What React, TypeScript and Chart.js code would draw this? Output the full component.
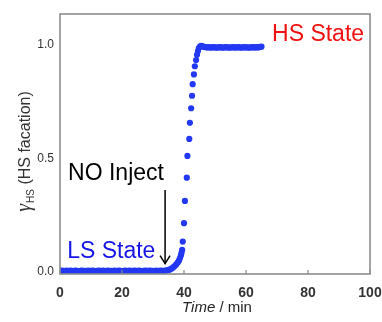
import React, { useEffect, useRef } from "react";
import { Chart, registerables } from "chart.js";

Chart.register(...registerables);

// ---- data ----
const timeMin: number[] = [
  0, 0.5, 1, 1.5, 2, 2.5, 3, 3.5, 4, 4.5, 5, 5.5, 6, 6.5, 7, 7.5, 8, 8.5, 9, 9.5,
  10, 10.5, 11, 11.5, 12, 12.5, 13, 13.5, 14, 14.5, 15, 15.5, 16, 16.5, 17, 17.5, 18, 18.5, 19, 19.5,
  20, 20.5, 21, 21.5, 22, 22.5, 23, 23.5, 24, 24.5, 25, 25.5, 26, 26.5, 27, 27.5, 28, 28.5, 29, 29.5,
  30, 30.5, 31, 31.5, 32, 32.5, 33, 33.5, 34, 34.5, 35, 35.5, 36, 36.5, 37, 37.5, 38, 38.4, 38.7, 39.0,
  39.2, 39.4, 39.6, 40.0, 40.3, 40.9, 41.1, 41.7, 41.9, 42.3, 42.6, 42.8, 43.2, 43.5, 43.9, 44.2,
  44.5, 44.8, 45.2, 45.6, 46.0, 46.5, 47, 47.5, 48, 48.5, 49, 49.5, 50, 50.5, 51, 51.5, 52, 52.5,
  53, 53.5, 54, 54.5, 55, 55.5, 56, 56.5, 57, 57.5, 58, 58.5, 59, 59.5, 60, 60.5, 61, 61.5, 62, 62.5,
  63, 63.5, 64, 64.5, 65,
];
const hsFraction: number[] = [
  0.004, 0.005, 0.004, 0.003, 0.005, 0.004, 0.004, 0.005, 0.003, 0.004, 0.005, 0.004, 0.003, 0.004, 0.005, 0.004, 0.004, 0.003, 0.005, 0.004,
  0.004, 0.005, 0.004, 0.003, 0.004, 0.005, 0.004, 0.004, 0.005, 0.003, 0.004, 0.005, 0.004, 0.004, 0.003, 0.005, 0.004, 0.004, 0.005, 0.004,
  0.003, 0.004, 0.005, 0.004, 0.004, 0.005, 0.003, 0.004, 0.005, 0.004, 0.004, 0.005, 0.004, 0.003, 0.004, 0.005, 0.004, 0.004, 0.005, 0.004,
  0.004, 0.003, 0.005, 0.004, 0.004, 0.005, 0.004, 0.004, 0.005, 0.006, 0.008, 0.010, 0.014, 0.019, 0.025, 0.032, 0.041, 0.050, 0.060, 0.072,
  0.083, 0.096, 0.133, 0.214, 0.312, 0.414, 0.510, 0.585, 0.656, 0.720, 0.775, 0.826, 0.869, 0.905, 0.932, 0.955,
  0.972, 0.985, 0.992, 0.995, 0.993, 0.990, 0.989, 0.988, 0.989, 0.987, 0.988, 0.989, 0.988, 0.987, 0.988, 0.989, 0.988, 0.987,
  0.988, 0.989, 0.988, 0.987, 0.988, 0.988, 0.989, 0.987, 0.988, 0.989, 0.988, 0.987, 0.988, 0.989, 0.988, 0.988, 0.987, 0.988, 0.989, 0.988,
  0.988, 0.989, 0.988, 0.990, 0.991,
];
const xTicks: number[] = [0, 20, 40, 60, 80, 100];
const yTicks: number[] = [0, 0.5, 1.0];

// annotations (data coordinates)
const injectArrow = { x: 33.9, yTop: 0.36, yTip: 0.036 };
const noInjectLabel = { text: "NO Inject", x: 2.6, y: 0.404 };
const lsLabel = { text: "LS State", x: 2.3, y: 0.06 };
const hsLabel = { text: "HS State", x: 68.4, y: 1.017 };

const SANS = '"Liberation Sans", Arial, Helvetica, sans-serif';

const decorPlugin = {
  id: "decor",
  afterDraw(chart: any) {
    const { ctx, chartArea: ca, scales } = chart;
    const xs = scales.x;
    const ys = scales.y;
    ctx.save();
    // frame
    ctx.strokeStyle = "#8c8c8c";
    ctx.lineWidth = 1.6;
    ctx.strokeRect(ca.left, ca.top, ca.right - ca.left, ca.bottom - ca.top);
    // inward x ticks
    ctx.lineWidth = 1.2;
    for (const t of xTicks) {
      const px = xs.getPixelForValue(t);
      ctx.beginPath();
      ctx.moveTo(px, ca.bottom);
      ctx.lineTo(px, ca.bottom - 4);
      ctx.stroke();
    }
    // arrow
    const ax = xs.getPixelForValue(injectArrow.x);
    const ay0 = ys.getPixelForValue(injectArrow.yTop);
    const ay1 = ys.getPixelForValue(injectArrow.yTip);
    ctx.strokeStyle = "#000";
    ctx.lineWidth = 1.5;
    ctx.beginPath();
    ctx.moveTo(ax, ay0);
    ctx.lineTo(ax, ay1);
    ctx.stroke();
    ctx.beginPath();
    ctx.moveTo(ax - 5, ay1 - 8);
    ctx.lineTo(ax, ay1);
    ctx.lineTo(ax + 5, ay1 - 8);
    ctx.stroke();
    // labels
    ctx.textBaseline = "alphabetic";
    ctx.textAlign = "left";
    ctx.font = `23px ${SANS}`;
    ctx.fillStyle = "#000";
    ctx.fillText(noInjectLabel.text, xs.getPixelForValue(noInjectLabel.x), ys.getPixelForValue(noInjectLabel.y));
    ctx.fillStyle = "#1414e6";
    ctx.fillText(lsLabel.text, xs.getPixelForValue(lsLabel.x), ys.getPixelForValue(lsLabel.y));
    ctx.fillStyle = "#f01010";
    ctx.fillText(hsLabel.text, xs.getPixelForValue(hsLabel.x), ys.getPixelForValue(hsLabel.y));

    // x title: "Time / min"
    ctx.fillStyle = "#222";
    ctx.textBaseline = "alphabetic";
    const f1 = `italic 15px ${SANS}`;
    const f2 = `15px ${SANS}`;
    ctx.font = f1;
    const w1 = ctx.measureText("Time").width;
    ctx.font = f2;
    const w2 = ctx.measureText(" / min").width;
    const cx = (ca.left + ca.right) / 2 + 2;
    const by = ca.bottom + 38;
    let sx = cx - (w1 + w2) / 2;
    ctx.font = f1;
    ctx.fillText("Time", sx, by);
    ctx.font = f2;
    ctx.fillText(" / min", sx + w1, by);

    // y title: γHS (HS facation)
    ctx.translate(30, (ca.top + ca.bottom) / 2 + 8);
    ctx.rotate(-Math.PI / 2);
    const g = `italic 20px "Liberation Serif", "Times New Roman", serif`;
    const sub = `10px ${SANS}`;
    const main = `16px ${SANS}`;
    ctx.font = g;
    const wg = ctx.measureText("γ").width;
    ctx.font = sub;
    const ws = ctx.measureText("HS").width;
    ctx.font = main;
    const wm = ctx.measureText(" (HS facation)").width;
    let tx = -(wg + ws + wm) / 2;
    ctx.fillStyle = "#333";
    ctx.font = g;
    ctx.fillText("γ", tx, 0);
    tx += wg + 1;
    ctx.font = sub;
    ctx.fillText("HS", tx, 4);
    tx += ws;
    ctx.font = main;
    ctx.fillText(" (HS facation)", tx, 0);
    ctx.restore();
  },
};

export default function App() {
  const ref = useRef<HTMLCanvasElement | null>(null);
  useEffect(() => {
    if (!ref.current) return;
    const points = timeMin.map((t, i) => ({ x: t, y: hsFraction[i] }));
    const chart = new Chart(ref.current, {
      type: "scatter",
      data: {
        datasets: [
          {
            data: points,
            backgroundColor: "#2338f2",
            borderWidth: 0,
            pointRadius: 3.1,
            showLine: false,
          },
        ],
      },
      options: {
        responsive: false,
        animation: false,
        events: [],
        layout: { padding: { top: 14, right: 12, left: 0, bottom: 0 } },
        plugins: { legend: { display: false }, tooltip: { enabled: false } },
        scales: {
          x: {
            type: "linear",
            min: 0,
            max: 100,
            grid: { display: false, drawTicks: false },
            border: { display: false },
            afterBuildTicks: (s: any) => {
              s.ticks = xTicks.map((v) => ({ value: v }));
            },
            afterFit: (s: any) => {
              s.height = 48;
              s.paddingLeft = 0;
              s.paddingRight = 0;
              s.paddingTop = 0;
              s.paddingBottom = 0;
            },
            ticks: {
              padding: 11,
              color: "#333",
              font: { family: SANS, size: 14, weight: "bold" },
              maxRotation: 0,
              callback: (v: any) => String(v),
            },
          },
          y: {
            type: "linear",
            min: -0.01,
            max: 1.135,
            grid: { display: false, drawTicks: false },
            border: { display: false },
            afterBuildTicks: (s: any) => {
              s.ticks = yTicks.map((v) => ({ value: v }));
            },
            afterFit: (s: any) => {
              s.width = 60;
              s.paddingLeft = 0;
              s.paddingRight = 0;
              s.paddingTop = 0;
              s.paddingBottom = 0;
            },
            ticks: {
              padding: 6,
              color: "#333",
              font: { family: SANS, size: 12 },
              callback: (v: any) => Number(v).toFixed(1),
            },
          },
        },
      },
      plugins: [decorPlugin],
    });
    return () => chart.destroy();
  }, []);
  return (
    <div style={{ position: "fixed", left: 0, top: 0, width: 382, height: 322, background: "#fff" }}>
      <canvas ref={ref} width={382} height={322} style={{ display: "block" }} />
    </div>
  );
}
